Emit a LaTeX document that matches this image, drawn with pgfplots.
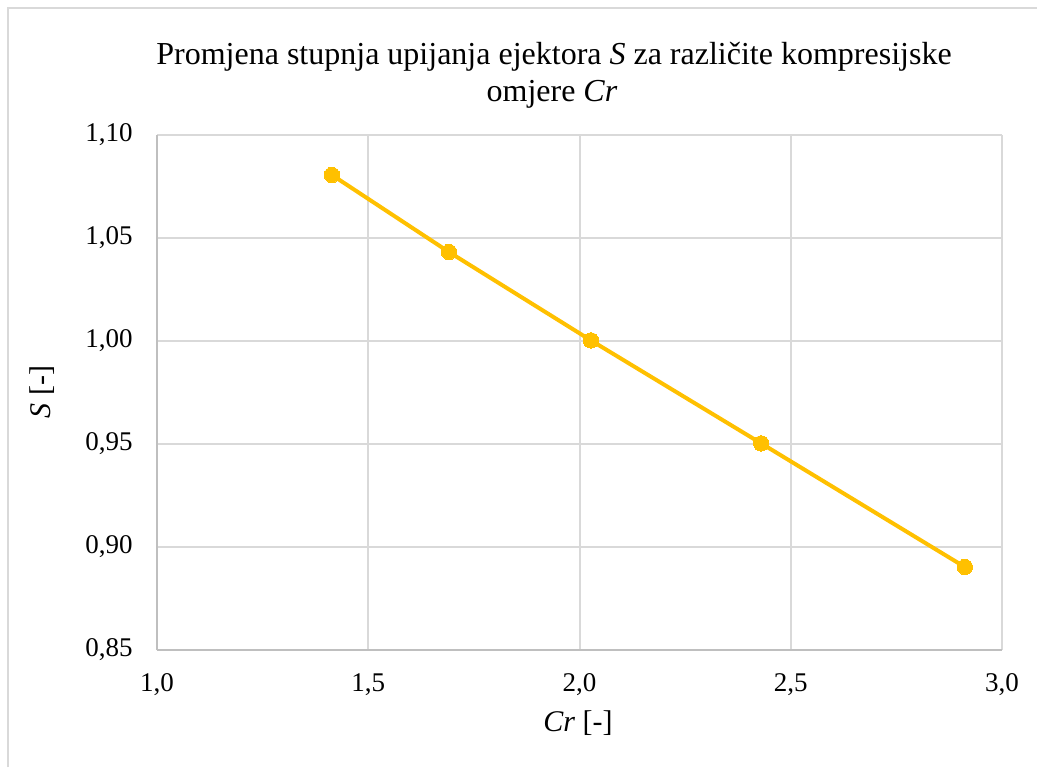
\documentclass[border=0pt]{standalone}
\usepackage{pgfplots}
\pgfplotsset{compat=1.18}
\usepackage{fontspec}
\setmainfont{Liberation Serif}
\definecolor{gold}{HTML}{FFC000}
\definecolor{gridc}{HTML}{D9D9D9}
\definecolor{axc}{HTML}{BFBFBF}
\begin{document}
\begin{tikzpicture}[x=0.5pt,y=0.5pt]
\begin{axis}[
  at={(78.5pt,58.5pt)}, anchor=south west,
  scale only axis, width=422.5pt, height=257.5pt,
  xmin=1, xmax=3, ymin=0.85, ymax=1.10,
  xtick={1,1.5,2,2.5,3},
  ytick={0.85,0.90,0.95,1.00,1.05,1.10},
  grid=major,
  major grid style={draw=gridc, line width=1pt},
  axis line style={draw=axc, line width=1pt},
  axis x line*=bottom, axis y line*=left,
  tick style={draw=none},
  /pgf/number format/assume math mode=true,
  /pgf/number format/use comma,
  /pgf/number format/fixed,
  /pgf/number format/fixed zerofill,
  xticklabel style={/pgf/number format/precision=1, font=\fontsize{13.5}{16}\selectfont, inner sep=0pt, anchor=north, yshift=-11.5pt},
  yticklabel style={/pgf/number format/precision=2, font=\fontsize{13.5}{16}\selectfont, inner sep=0pt, anchor=east, xshift=-12pt},
  clip=false,
]
\addplot[color=gold, line width=2pt, mark=*, mark size=3.85pt, mark options={fill=gold, draw=gold, line width=0pt}]
  coordinates {(1.414,1.0806) (1.691,1.0432) (2.027,1.0003) (2.430,0.9503) (2.912,0.8903)};
\end{axis}
\node[anchor=base, font=\fontsize{16}{18}\selectfont] at (554,702) {Promjena stupnja upijanja ejektora \textit{S} za različite kompresijske};
\node[anchor=base, font=\fontsize{16}{18}\selectfont] at (552,665) {omjere \textit{Cr}};
\node[rotate=90, font=\fontsize{15}{17}\selectfont] at (42,375) {\textit{S} [-]};
\node[font=\fontsize{15}{17}\selectfont] at (578,44) {\textit{Cr} [-]};
\draw[gridc, line width=0.75pt] (8,0) -- (8,759) -- (1037,759);
\pgfresetboundingbox
\path (0,0) rectangle (1037,767);
\end{tikzpicture}
\end{document}
